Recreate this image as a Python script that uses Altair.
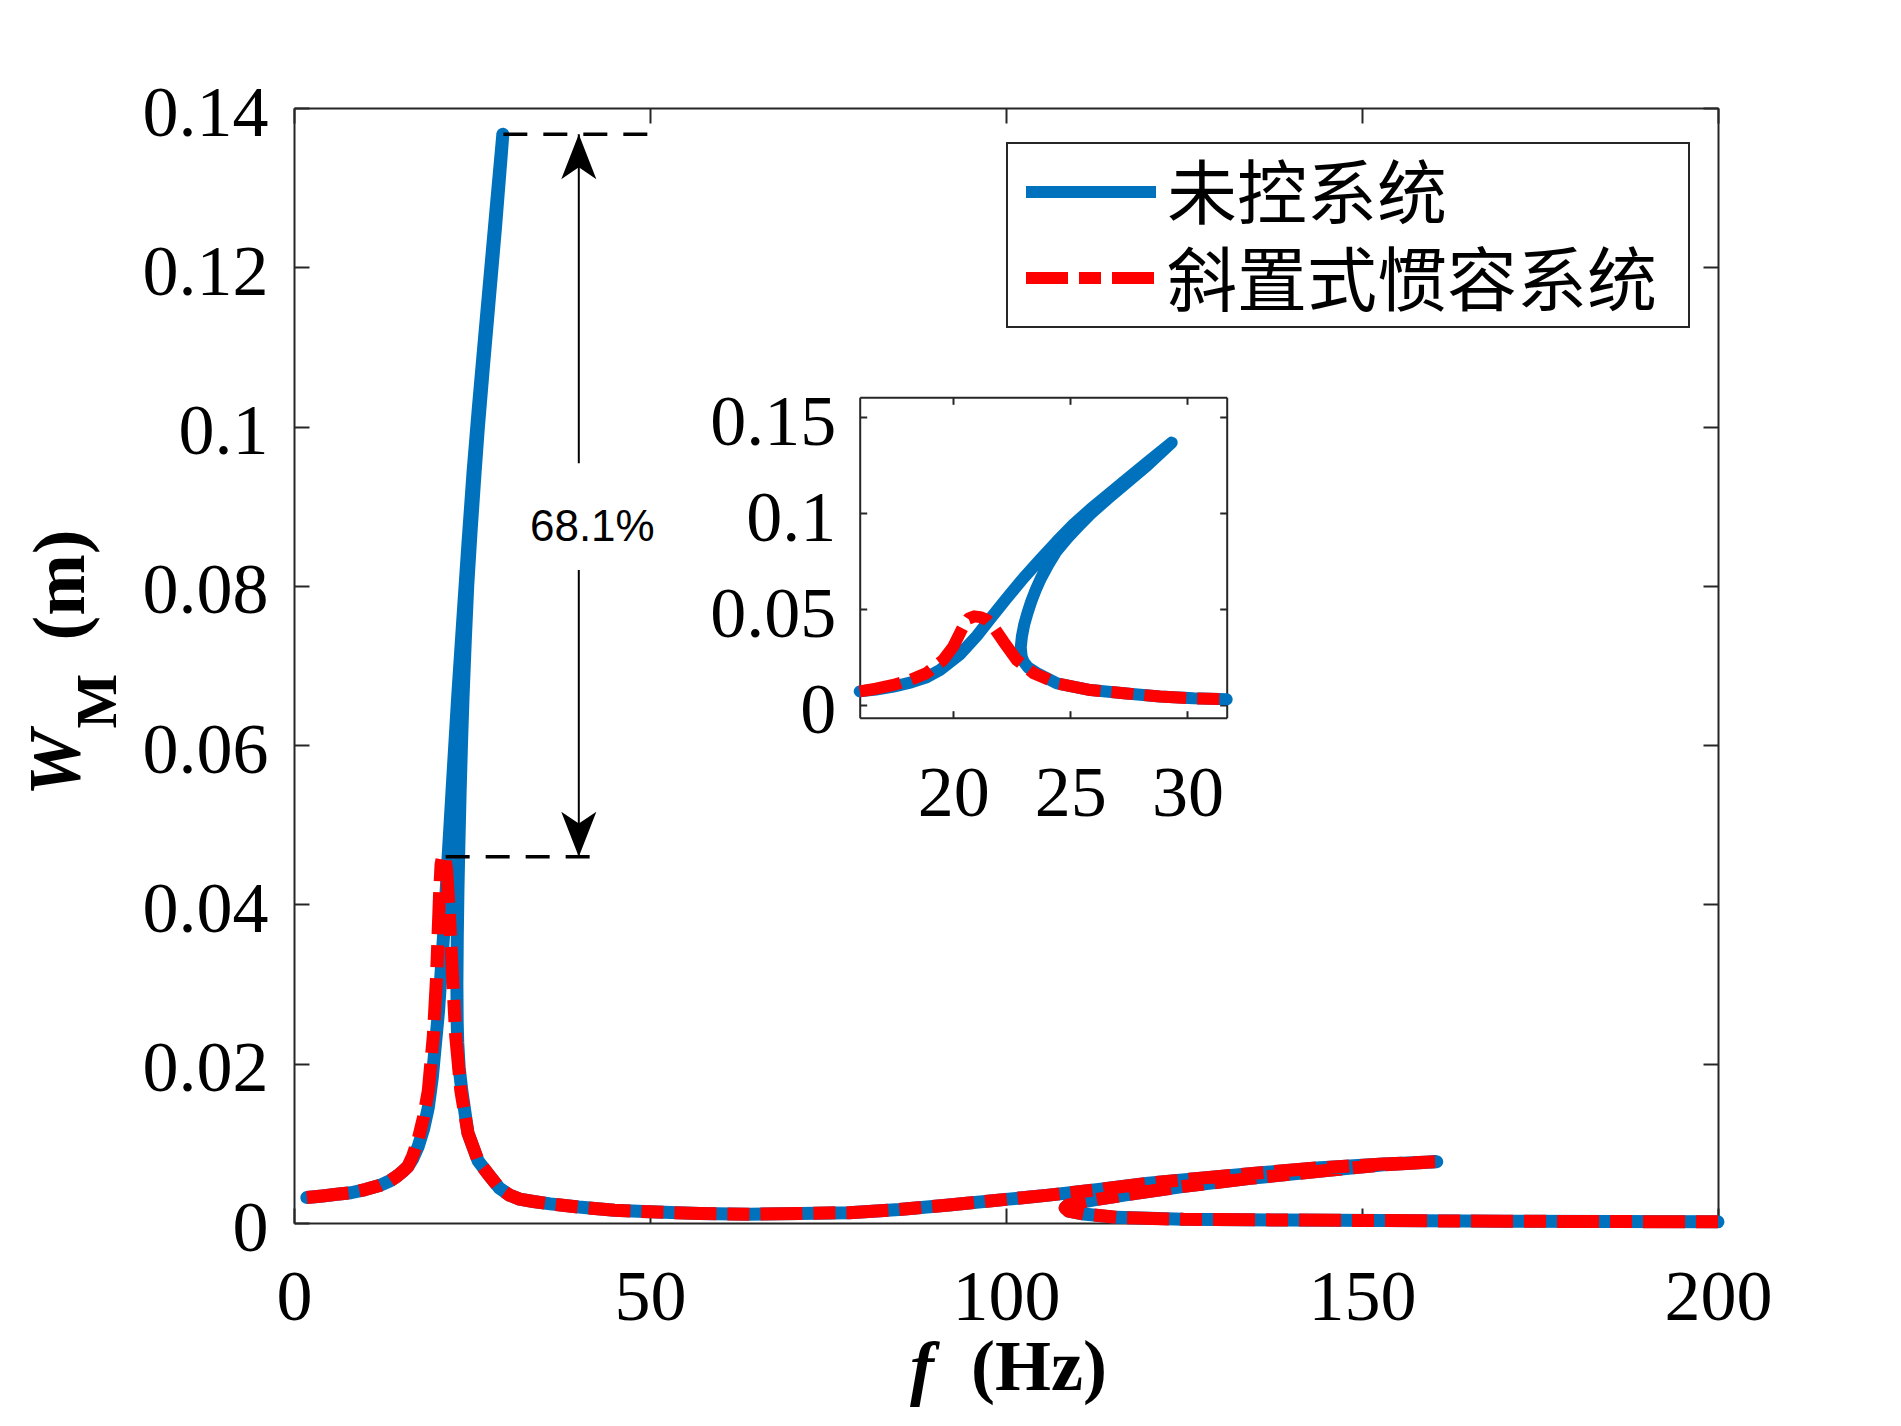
import altair as alt
import pandas as pd

# ---------------- data ----------------
series_names = ["未控系统", "斜置式惯容系统"]

# shared low-frequency part
low_f = [1.8, 4.0, 6.0, 8.0, 10.0, 12.0, 13.5, 14.5, 15.3, 16.0]
low_w = [0.0032, 0.0034, 0.0036, 0.0038, 0.0042, 0.0047, 0.0053, 0.0059, 0.0065, 0.0071]

# uncontrolled system: first-mode fold (upper branch, then unstable branch back to the lower branch)
blue_res_f = [16.7, 17.44, 18.2, 18.86, 19.43, 20.29, 21.0, 21.57, 22.29, 23.0, 23.71, 24.43, 25.14, 25.86,
              26.6, 27.4, 28.3, 29.33,
              29.1, 28.3, 27.4, 26.6, 25.86, 25.43, 24.88, 24.40, 24.05, 23.74, 23.52, 23.33, 23.17, 23.03,
              22.93, 22.88, 22.92, 23.0, 23.2, 23.57, 24.43]
blue_res_w = [0.0081, 0.0096, 0.0118, 0.0145, 0.0183, 0.0265, 0.0360, 0.0448, 0.0557, 0.0662, 0.0758, 0.0853,
              0.0942, 0.1020, 0.1095, 0.1175, 0.1265, 0.1367,
              0.1340, 0.1250, 0.1157, 0.1075, 0.0995, 0.0942, 0.0870, 0.0800, 0.0730, 0.0660, 0.0600, 0.0540,
              0.0480, 0.0420, 0.0357, 0.0300, 0.0252, 0.0226, 0.0195, 0.0166, 0.0113]

# inclined inerter system: first-mode peak
red_res_f = [16.7, 17.44, 18.2, 18.86, 19.57, 20.0, 20.43, 20.65, 20.9, 21.15, 21.43, 21.8, 22.14, 22.71,
             23.43, 24.43]
red_res_w = [0.0085, 0.0105, 0.0133, 0.0166, 0.0235, 0.0305, 0.0410, 0.0450, 0.0462, 0.0458, 0.0444, 0.0392,
             0.0331, 0.0235, 0.0166, 0.0113]

# shared tail up to the end of the second-mode upper branch
tail_f = [25.86, 27.4, 28.83, 30.26, 31.68, 33.6, 36.0, 40.0, 45.0, 50.0, 57.0, 64.0, 71.0, 78.0, 85.0, 92.0,
          100.0, 106.0, 113.0, 120.0, 127.0, 134.3, 143.6, 153.0, 160.5]
tail_w = [0.0078, 0.0060, 0.0044, 0.0035, 0.0030, 0.0027, 0.0024, 0.0020, 0.0016, 0.0014, 0.0012, 0.0011, 0.0012,
          0.0013, 0.0017, 0.00226, 0.00297, 0.0035, 0.0042, 0.0050, 0.0056, 0.0062, 0.0069, 0.0074, 0.0077]

# shared second-mode unstable branch back to the fold, then the lower branch
ret_f = [153.0, 145.0, 134.3, 125.0, 118.0, 113.0, 110.5, 108.7, 108.3, 108.8, 110.9, 115.5, 124.9, 139.0,
         153.0, 170.0, 185.0, 200.0]
ret_w = [0.0073, 0.0066, 0.0056, 0.0046, 0.0037, 0.0030, 0.0026, 0.00226, 0.0019, 0.0015, 0.00113, 0.00071,
         0.00046, 0.00038, 0.0003, 0.00022, 0.00018, 0.00015]

# annotation values
peak_unctrl = 0.1367
peak_ctrl = 0.046
top_dash_f = [29.4, 50.8]
bot_dash_f = [21.3, 43.3]
arrow_f = 40.0
shaft_top = [0.1367, 0.0954]
shaft_bot = [0.082, 0.046]
pct_text = "68.1%"
pct_pos = [41.9, 0.0873]

x_ticks = [0, 50, 100, 150, 200]
y_ticks = [0, 0.02, 0.04, 0.06, 0.08, 0.1, 0.12, 0.14]
inset_x_ticks = [20, 25, 30]
inset_y_ticks = [0, 0.05, 0.1, 0.15]
inset_x_dom = [16.0, 31.68]
inset_y_dom = [-0.0066, 0.1603]

# ---------------- tables ----------------
rows = []
paths = {
    series_names[0]: (low_f + blue_res_f + tail_f + ret_f, low_w + blue_res_w + tail_w + ret_w),
    series_names[1]: (low_f + red_res_f + tail_f + ret_f, low_w + red_res_w + tail_w + ret_w),
}
for name, (fs, ws) in paths.items():
    for i, (f, w) in enumerate(zip(fs, ws)):
        rows.append({"s": name, "i": i, "f": f, "w": w})
df = pd.DataFrame(rows)

dash_df = pd.DataFrame({"f1": [top_dash_f[0], bot_dash_f[0]], "f2": [top_dash_f[1], bot_dash_f[1]],
                        "w": [peak_unctrl, peak_ctrl]})
shaft_df = pd.DataFrame({"f": [arrow_f, arrow_f], "w1": [shaft_top[0], shaft_bot[0]],
                         "w2": [shaft_top[1], shaft_bot[1]]})
head_up_df = pd.DataFrame({"f": [arrow_f], "w": [peak_unctrl]})
head_dn_df = pd.DataFrame({"f": [arrow_f], "w": [peak_ctrl]})
pct_df = pd.DataFrame({"f": [pct_pos[0]], "w": [pct_pos[1]], "t": [pct_text]})
one = pd.DataFrame({"k": [0]})

# ---------------- styling ----------------
W, H = 1424, 1115
BLUE, RED, FRAME = "#0072BD", "#FF0000", "#262626"
SERIF = "Liberation Serif"
DASHDOT = [42, 11, 22, 11]
LW_MAIN, LW_IN = 13, 12

# inset placement in plot pixels
IL, IR, IT, IB = 565.7, 932.7, 289.3, 609.7


def ax(orient, values, fmt=None, labels=False, ticks=False, tick_size=0, domain=False,
       offset=0, pad=0, label_offset=0):
    kw = dict(orient=orient, values=values, labels=labels, ticks=ticks, tickSize=tick_size,
              domain=domain, offset=offset, grid=False, title=None, labelPadding=pad,
              labelFont=SERIF, labelFontSize=72, labelColor="black", tickColor=FRAME,
              tickWidth=2, domainColor=FRAME, domainWidth=2, labelFlush=False,
              labelOverlap=False, labelOffset=label_offset)
    if fmt:
        kw["format"] = fmt
    return alt.Axis(**kw)


xs_main = alt.Scale(domain=[0, 200], nice=False, zero=False)
ys_main = alt.Scale(domain=[0, 0.14], nice=False, zero=False)
xs_in = alt.Scale(domain=inset_x_dom, range=[IL, IR], nice=False, zero=False)
ys_in = alt.Scale(domain=inset_y_dom, range=[IB, IT], nice=False, zero=False)

blue_sel = alt.FieldEqualPredicate(field="s", equal=series_names[0])
red_sel = alt.FieldEqualPredicate(field="s", equal=series_names[1])

# ---------------- main plot ----------------
blue_main = alt.Chart(df).transform_filter(blue_sel).mark_line(
    color=BLUE, strokeWidth=LW_MAIN, strokeCap="round", strokeJoin="round").encode(
    x=alt.X("f:Q", scale=xs_main, axis=ax("bottom", x_ticks, fmt="d", labels=True, pad=39)),
    y=alt.Y("w:Q", scale=ys_main, axis=ax("left", y_ticks, fmt=".2~f", labels=True, pad=26, label_offset=5)),
    order="i:Q")

red_main = alt.Chart(df).transform_filter(red_sel).mark_line(
    color=RED, strokeWidth=LW_MAIN, strokeCap="butt", strokeJoin="round", strokeDash=DASHDOT).encode(
    x=alt.X("f:Q", scale=xs_main, axis=ax("top", x_ticks, ticks=True, tick_size=15, domain=True, offset=-H)),
    y=alt.Y("w:Q", scale=ys_main, axis=ax("right", y_ticks, ticks=True, tick_size=15, domain=True, offset=-W)),
    order="i:Q")

dash_lines = alt.Chart(dash_df).mark_rule(color="black", strokeWidth=3.5, strokeDash=[24, 16]).encode(
    x=alt.X("f1:Q", scale=xs_main, axis=ax("bottom", x_ticks, ticks=True, tick_size=15, domain=True, offset=-H)),
    x2="f2:Q",
    y=alt.Y("w:Q", scale=ys_main, axis=ax("left", y_ticks, ticks=True, tick_size=15, domain=True, offset=-W)))

shafts = alt.Chart(shaft_df).mark_rule(color="black", strokeWidth=2).encode(
    x=alt.X("f:Q", scale=xs_main, axis=None),
    y=alt.Y("w1:Q", scale=ys_main, axis=None), y2="w2:Q")

head_up = alt.Chart(head_up_df).mark_point(
    shape="M0,0 L0.78,2 L0,1.47 L-0.78,2 Z", size=2025, filled=True, color="black",
    opacity=1, strokeWidth=0).encode(
    x=alt.X("f:Q", scale=xs_main, axis=None), y=alt.Y("w:Q", scale=ys_main, axis=None))

head_dn = alt.Chart(head_dn_df).mark_point(
    shape="M0,0 L0.78,-2 L0,-1.47 L-0.78,-2 Z", size=2025, filled=True, color="black",
    opacity=1, strokeWidth=0).encode(
    x=alt.X("f:Q", scale=xs_main, axis=None), y=alt.Y("w:Q", scale=ys_main, axis=None))

pct = alt.Chart(pct_df).mark_text(font="Liberation Sans", fontSize=44, color="black",
                                  align="center", baseline="middle").encode(
    x=alt.X("f:Q", scale=xs_main, axis=None), y=alt.Y("w:Q", scale=ys_main, axis=None), text="t:N")

# legend
leg_box = alt.Chart(one).mark_rect(fill="white", stroke=FRAME, strokeWidth=2).encode(
    x=alt.value(713), x2=alt.value(1395), y=alt.value(35), y2=alt.value(219))
leg_blue = alt.Chart(one).mark_rule(color=BLUE, strokeWidth=12).encode(
    x=alt.value(732), x2=alt.value(862), y=alt.value(84))
leg_red = alt.Chart(one).mark_rule(color=RED, strokeWidth=12, strokeDash=DASHDOT).encode(
    x=alt.value(732), x2=alt.value(862), y=alt.value(170))
leg_t1 = alt.Chart(one).mark_text(text=series_names[0], font="Noto Sans CJK SC", fontSize=70,
                                  color="black", align="left", baseline="middle").encode(
    x=alt.value(873), y=alt.value(90))
leg_t2 = alt.Chart(one).mark_text(text=series_names[1], font="Noto Sans CJK SC", fontSize=70,
                                  color="black", align="left", baseline="middle").encode(
    x=alt.value(873), y=alt.value(177))

# axis titles
yt_W = alt.Chart(one).mark_text(text="W", font=SERIF, fontSize=74, fontWeight="bold", fontStyle="italic",
                                angle=270, align="center", baseline="middle", color="black").encode(
    x=alt.value(-236), y=alt.value(655))
yt_M = alt.Chart(one).mark_text(text="M", font=SERIF, fontSize=58, fontWeight="bold",
                                angle=270, align="center", baseline="middle", color="black").encode(
    x=alt.value(-195), y=alt.value(593))
yt_m = alt.Chart(one).mark_text(text="(m)", font=SERIF, fontSize=74, fontWeight="bold",
                                angle=270, align="center", baseline="middle", color="black").encode(
    x=alt.value(-232), y=alt.value(477))
xt_f = alt.Chart(one).mark_text(text="f", font=SERIF, fontSize=72, fontWeight="bold", fontStyle="italic",
                                align="center", baseline="middle", color="black").encode(
    x=alt.value(628), y=alt.value(1262))
xt_Hz = alt.Chart(one).mark_text(text="(Hz)", font=SERIF, fontSize=72, fontWeight="bold",
                                 align="center", baseline="middle", color="black").encode(
    x=alt.value(745), y=alt.value(1260))

main = alt.layer(blue_main, red_main, dash_lines, shafts, head_up, head_dn, pct,
                 leg_box, leg_blue, leg_red, leg_t1, leg_t2,
                 yt_W, yt_M, yt_m, xt_f, xt_Hz).resolve_axis(x="independent", y="independent")

# ---------------- inset ----------------
in_range = alt.FieldRangePredicate(field="f", range=inset_x_dom)

blue_in = alt.Chart(df).transform_filter(blue_sel).transform_filter(in_range).mark_line(
    color=BLUE, strokeWidth=LW_IN, strokeCap="round", strokeJoin="round").encode(
    x=alt.X("f:Q", scale=xs_in, axis=ax("bottom", inset_x_ticks, fmt="d", labels=True, pad=41,
                                        offset=-(H - IB))),
    y=alt.Y("w:Q", scale=ys_in, axis=ax("left", inset_y_ticks, fmt=".2~f", labels=True, pad=24,
                                        label_offset=5, offset=-IL)),
    order="i:Q")

red_in = alt.Chart(df).transform_filter(red_sel).transform_filter(in_range).mark_line(
    color=RED, strokeWidth=LW_IN, strokeCap="butt", strokeJoin="round", strokeDash=DASHDOT).encode(
    x=alt.X("f:Q", scale=xs_in, axis=ax("top", inset_x_ticks, ticks=True, tick_size=7, domain=True,
                                        offset=-IB)),
    y=alt.Y("w:Q", scale=ys_in, axis=ax("right", inset_y_ticks, ticks=True, tick_size=7, domain=True,
                                        offset=-(W - IL))),
    order="i:Q")

ghost_in = alt.Chart(df).transform_filter(red_sel).transform_filter(in_range).mark_point(opacity=0).encode(
    x=alt.X("f:Q", scale=xs_in, axis=ax("bottom", inset_x_ticks, ticks=True, tick_size=7, domain=True,
                                        offset=-(H - IT))),
    y=alt.Y("w:Q", scale=ys_in, axis=ax("left", inset_y_ticks, ticks=True, tick_size=7, domain=True,
                                        offset=-IR)))

inset = alt.layer(blue_in, red_in, ghost_in).resolve_axis(x="independent", y="independent")

chart = alt.layer(main, inset).resolve_scale(x="independent", y="independent").resolve_axis(
    x="independent", y="independent").properties(
    width=W, height=H,
    padding={"left": 286, "top": 100, "right": 60, "bottom": 185},
    autosize=alt.AutoSizeParams(type="none"),
    background="white",
).configure_view(stroke="transparent")

chart.save("out.html", embed_options={"renderer": "svg", "actions": False})
